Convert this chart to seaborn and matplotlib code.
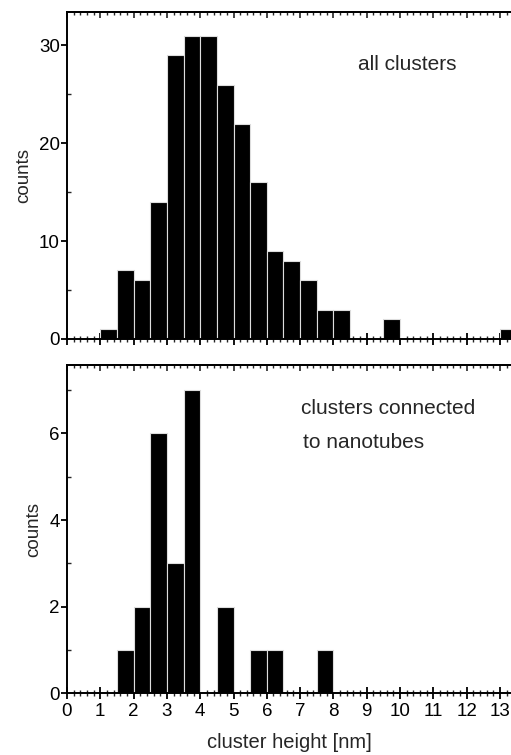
import matplotlib
matplotlib.use("Agg")
import matplotlib.pyplot as plt
import seaborn as sns
import numpy as np
from matplotlib.ticker import MultipleLocator

# ---- data ----
top_bin_left = [1.0, 1.5, 2.0, 2.5, 3.0, 3.5, 4.0, 4.5, 5.0, 5.5, 6.0, 6.5, 7.0, 7.5, 8.0, 9.5, 13.0]
top_counts   = [1,   7,   6,   14,  29,  31,  31,  26,  22,  16,  9,   8,   6,   3,   3,   2,   1]

bot_bin_left = [1.5, 2.0, 2.5, 3.0, 3.5, 4.5, 5.5, 6.0, 7.5]
bot_counts   = [1,   2,   6,   3,   7,   2,   1,   1,   1]

x_ticks = list(range(0, 14))
top_label = "all clusters"
bot_label = ["clusters connected", "to nanotubes"]
x_title = "cluster height [nm]"
y_title = "counts"
binw = 0.5

sns.set_style("ticks")
plt.rcParams['font.family'] = ['Liberation Sans', 'DejaVu Sans']

fig = plt.figure(figsize=(5.11, 7.55), dpi=100)
ax1 = fig.add_axes([0.131, 0.551, 0.869, 0.433])
ax2 = fig.add_axes([0.131, 0.0817, 0.869, 0.435])

def draw(ax, left, counts, ylim, ymaj, ymin, show_xlabels):
    centers = [l + binw / 2 for l in left]
    sns.histplot(x=centers, weights=counts, binwidth=binw, binrange=(0, 13.5),
                 color="black", alpha=1, edgecolor="#dddddd", linewidth=0.8, ax=ax)
    ax.set_xlim(0, 13.33)
    ax.set_ylim(*ylim)
    for s in ["left", "bottom", "top"]:
        ax.spines[s].set_linewidth(1.4)
        ax.spines[s].set_color("black")
    ax.spines["right"].set_visible(False)
    ax.xaxis.set_major_locator(MultipleLocator(1))
    ax.xaxis.set_minor_locator(MultipleLocator(0.2))
    ax.yaxis.set_major_locator(MultipleLocator(ymaj))
    ax.yaxis.set_minor_locator(MultipleLocator(ymin))
    ax.tick_params(axis="x", which="major", direction="inout", length=8, width=1.3,
                   bottom=True, top=False, labelsize=13.5, pad=3, colors="black")
    ax.tick_params(axis="x", which="minor", direction="inout", length=4.5, width=1.0,
                   bottom=True, top=False)
    ax.tick_params(axis="y", which="major", direction="out", length=4, width=1.3,
                   labelsize=13.5, pad=1, colors="black")
    ax.tick_params(axis="y", which="minor", direction="in", length=3, width=1.0)
    if not show_xlabels:
        ax.tick_params(axis="x", labelbottom=False)
    else:
        ax.set_xticks(x_ticks)
        ax.set_xticklabels([str(t) for t in x_ticks])
    sec = ax.secondary_xaxis("top")
    sec.xaxis.set_major_locator(MultipleLocator(1))
    sec.xaxis.set_minor_locator(MultipleLocator(0.2))
    sec.tick_params(which="major", direction="in", length=4, width=1.2, labeltop=False)
    sec.tick_params(which="minor", direction="in", length=2.5, width=1.0)
    sec.spines["top"].set_linewidth(1.4)
    ax.set_ylabel(y_title, fontsize=13.5, labelpad=5)
    ax.set_xlabel("")

draw(ax1, top_bin_left, top_counts, (0, 33.4), 10, 5, False)
draw(ax2, bot_bin_left, bot_counts, (0, 7.58), 2, 1, True)

ax2.set_xlabel(x_title, fontsize=14.5, labelpad=9)

ax1.text(8.75, 28.0, top_label, fontsize=15, ha="left", va="center")
ax2.text(7.04, 6.58, bot_label[0], fontsize=15, ha="left", va="center")
ax2.text(7.1, 5.78, bot_label[1], fontsize=15, ha="left", va="center")

fig.savefig("out.png", dpi=100)
